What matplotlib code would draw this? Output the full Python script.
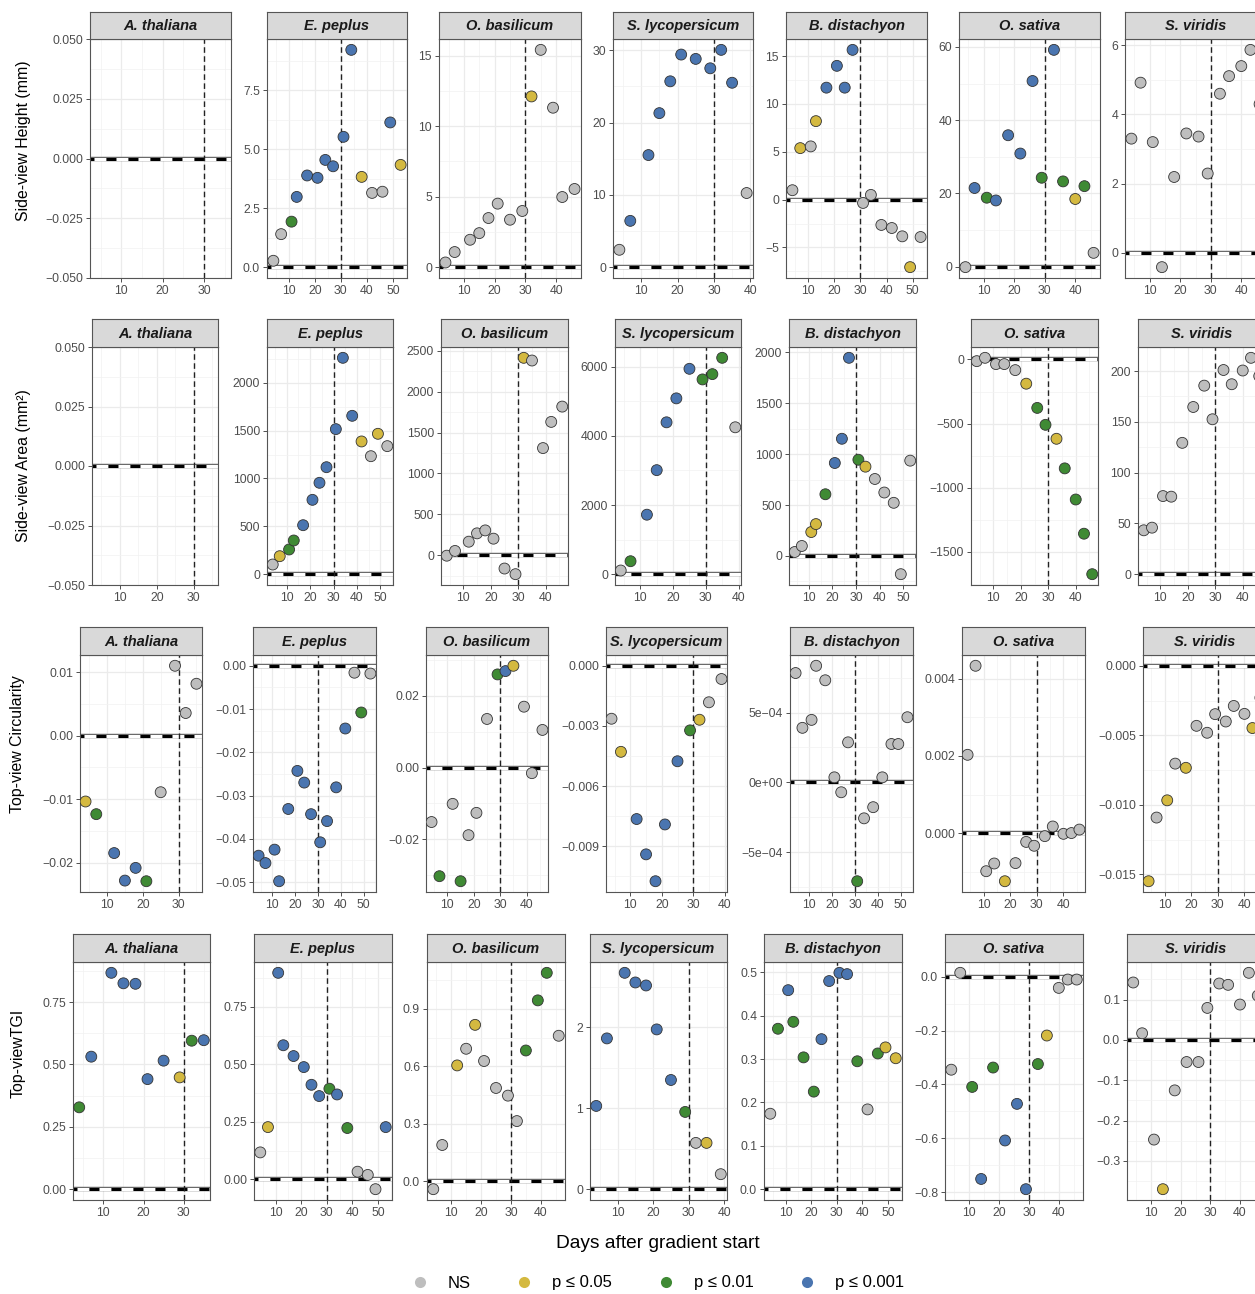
import matplotlib
matplotlib.use("Agg")
import matplotlib.pyplot as plt
from matplotlib.ticker import MultipleLocator, FuncFormatter
from matplotlib.lines import Line2D

plt.rcParams['font.family'] = ['Liberation Sans', 'DejaVu Sans']

W, H = 1255, 1294

species = ["A. thaliana", "E. peplus", "O. basilicum", "S. lycopersicum",
           "B. distachyon", "O. sativa", "S. viridis"]

# sampling days per species
days = {
    "A. thaliana": [4, 7, 12, 15, 18, 21, 25, 29, 32, 35],
    "E. peplus": [4, 7, 11, 13, 17, 21, 24, 27, 31, 34, 38, 42, 46, 49, 53],
    "O. basilicum": [4, 7, 12, 15, 18, 21, 25, 29, 32, 35, 39, 42, 46],
    "S. lycopersicum": [4, 7, 12, 15, 18, 21, 25, 29, 32, 35, 39],
    "B. distachyon": [4, 7, 11, 13, 17, 21, 24, 27, 31, 34, 38, 42, 46, 49, 53],
    "O. sativa": [4, 7, 11, 14, 18, 22, 26, 29, 33, 36, 40, 43, 46],
    "S. viridis": [4, 7, 11, 14, 18, 22, 26, 29, 33, 36, 40, 43, 46],
}

# significance: 0 = NS, 1 = p<=0.05, 2 = p<=0.01, 3 = p<=0.001
sig_labels = ["NS", "p ≤ 0.05", "p ≤ 0.01", "p ≤ 0.001"]
sig_colors = ["#BEBEBE", "#D4B940", "#3F8A34", "#4A75B0"]

height = {
    "A. thaliana": [],
    "E. peplus": [0.27, 1.40, 1.93, 2.98, 3.89, 3.79, 4.55, 4.28, 5.53, 9.22, 3.83, 3.15, 3.20, 6.14, 4.34],
    "O. basilicum": [0.33, 1.07, 1.94, 2.41, 3.48, 4.50, 3.36, 3.98, 12.1, 15.4, 11.3, 4.97, 5.54],
    "S. lycopersicum": [2.4, 6.4, 15.5, 21.3, 25.7, 29.4, 28.8, 27.5, 30.05, 25.5, 10.25],
    "B. distachyon": [0.98, 5.38, 5.56, 8.2, 11.7, 13.98, 11.7, 15.65, -0.35, 0.49, -2.65, -2.97, -3.84, -7.06, -3.91],
    "O. sativa": [-0.1, 21.5, 18.85, 18.1, 35.9, 30.9, 50.7, 24.3, 59.2, 23.3, 18.5, 22.0, 3.8],
    "S. viridis": [3.30, 4.92, 3.20, -0.42, 2.19, 3.45, 3.36, 2.29, 4.60, 5.11, 5.40, 5.87, 4.30],
}
height_sig = {
    "A. thaliana": [],
    "E. peplus": [0, 0, 2, 3, 3, 3, 3, 3, 3, 3, 1, 0, 0, 3, 1],
    "O. basilicum": [0, 0, 0, 0, 0, 0, 0, 0, 1, 0, 0, 0, 0],
    "S. lycopersicum": [0, 3, 3, 3, 3, 3, 3, 3, 3, 3, 0],
    "B. distachyon": [0, 1, 0, 1, 3, 3, 3, 3, 0, 0, 0, 0, 0, 1, 0],
    "O. sativa": [0, 3, 2, 3, 3, 3, 3, 2, 3, 2, 1, 2, 0],
    "S. viridis": [0] * 13,
}

area = {
    "A. thaliana": [],
    "E. peplus": [101, 188, 258, 352, 512, 777, 955, 1118, 1516, 2261, 1655, 1387, 1233, 1467, 1338],
    "O. basilicum": [-5, 53, 166, 268, 304, 203, -162, -231, 2413, 2380, 1310, 1630, 1817],
    "S. lycopersicum": [106, 375, 1721, 3010, 4394, 5087, 5942, 5635, 5788, 6260, 4250],
    "B. distachyon": [39, 98, 235, 313, 606, 913, 1151, 1946, 945, 877, 756, 623, 522, -179, 936],
    "O. sativa": [-13, 13, -36, -36, -83, -189, -378, -510, -619, -850, -1093, -1360, -1676],
    "S. viridis": [43.2, 45.8, 76.9, 76.3, 129.3, 164.6, 185.6, 152.5, 201, 187, 200.5, 213, 195],
}
area_sig = {
    "A. thaliana": [],
    "E. peplus": [0, 1, 2, 2, 3, 3, 3, 3, 3, 3, 3, 1, 0, 1, 0],
    "O. basilicum": [0, 0, 0, 0, 0, 0, 0, 0, 1, 0, 0, 0, 0],
    "S. lycopersicum": [0, 2, 3, 3, 3, 3, 3, 2, 2, 2, 0],
    "B. distachyon": [0, 0, 1, 1, 2, 3, 3, 3, 2, 1, 0, 0, 0, 0, 0],
    "O. sativa": [0, 0, 0, 0, 0, 1, 2, 2, 1, 2, 2, 2, 2],
    "S. viridis": [0] * 13,
}

circularity = {
    "A. thaliana": [-0.01036, -0.01235, -0.01847, -0.0228, -0.0208, -0.0229, -0.0089, 0.01099, 0.00356, 0.00816],
    "E. peplus": [-0.0439, -0.0456, -0.0425, -0.0498, -0.0331, -0.0243, -0.0270, -0.0343, -0.0408, -0.0359,
                  -0.0281, -0.0145, -0.0016, -0.0108, -0.0018],
    "O. basilicum": [-0.01515, -0.0302, -0.0101, -0.0316, -0.0188, -0.0126, 0.01349, 0.02587, 0.02679, 0.02827,
                     0.0169, -0.00157, 0.01044],
    "S. lycopersicum": [-0.00264, -0.00429, -0.00764, -0.0094, -0.01074, -0.00791, -0.00476, -0.00322, -0.00269,
                        -0.00182, -0.00066],
    "B. distachyon": [7.84e-4, 3.91e-4, 4.48e-4, 8.36e-4, 7.32e-4, 0.36e-4, -0.71e-4, 2.87e-4, -7.09e-4, -2.58e-4,
                      -1.78e-4, 0.36e-4, 2.75e-4, 2.75e-4, 4.67e-4],
    "O. sativa": [0.00203, 0.00434, -0.00099, -0.00079, -0.00125, -0.00078, -0.00023, -0.00033, -0.00008, 0.00017,
                  -0.00002, 0.0, 0.00009],
    "S. viridis": [-0.0155, -0.01092, -0.00968, -0.00704, -0.00734, -0.00432, -0.00482, -0.00348, -0.00401,
                   -0.00289, -0.00346, -0.00448, -0.0023],
}
circularity_sig = {
    "A. thaliana": [1, 2, 3, 3, 3, 2, 0, 0, 0, 0],
    "E. peplus": [3] * 12 + [0, 2, 0],
    "O. basilicum": [0, 2, 0, 2, 0, 0, 0, 2, 3, 1, 0, 0, 0],
    "S. lycopersicum": [0, 1, 3, 3, 3, 3, 3, 2, 1, 0, 0],
    "B. distachyon": [0] * 8 + [2] + [0] * 6,
    "O. sativa": [0, 0, 0, 0, 1, 0, 0, 0, 0, 0, 0, 0, 0],
    "S. viridis": [1, 0, 1, 0, 1, 0, 0, 0, 0, 0, 0, 1, 0],
}

tgi = {
    "A. thaliana": [0.328, 0.531, 0.867, 0.825, 0.823, 0.441, 0.515, 0.448, 0.595, 0.597],
    "E. peplus": [0.117, 0.227, 0.898, 0.583, 0.536, 0.488, 0.411, 0.362, 0.394, 0.369, 0.223, 0.033, 0.019,
                  -0.043, 0.227],
    "O. basilicum": [-0.042, 0.189, 0.605, 0.692, 0.817, 0.628, 0.487, 0.447, 0.314, 0.683, 0.945, 1.089, 0.760],
    "S. lycopersicum": [1.027, 1.86, 2.669, 2.55, 2.513, 1.971, 1.347, 0.953, 0.571, 0.571, 0.185],
    "B. distachyon": [0.174, 0.370, 0.459, 0.386, 0.304, 0.225, 0.346, 0.480, 0.499, 0.496, 0.295, 0.184, 0.313,
                      0.327, 0.302],
    "O. sativa": [-0.345, 0.015, -0.409, -0.751, -0.337, -0.608, -0.472, -0.789, -0.324, -0.218, -0.041, -0.010,
                  -0.010],
    "S. viridis": [0.1425, 0.0166, -0.247, -0.370, -0.125, -0.0547, -0.0547, 0.0795, 0.140, 0.1367, 0.0878,
                   0.1665, 0.11],
}
tgi_sig = {
    "A. thaliana": [2, 3, 3, 3, 3, 3, 3, 1, 2, 3],
    "E. peplus": [0, 1, 3, 3, 3, 3, 3, 3, 2, 3, 2, 0, 0, 0, 3],
    "O. basilicum": [0, 0, 1, 0, 1, 0, 0, 0, 0, 2, 2, 2, 0],
    "S. lycopersicum": [3, 3, 3, 3, 3, 3, 3, 2, 0, 1, 0],
    "B. distachyon": [0, 2, 3, 2, 2, 2, 3, 3, 3, 3, 2, 0, 2, 1, 1],
    "O. sativa": [0, 0, 2, 3, 2, 3, 3, 3, 2, 1, 0, 0, 0],
    "S. viridis": [0, 0, 0, 1, 0, 0, 0, 0, 0, 0, 0, 0, 0],
}

y_titles = ["Side-view Height (mm)", "Side-view Area (mm²)", "Top-view Circularity", "Top-viewTGI"]
x_title = "Days after gradient start"

# axis tick steps and label decimals per panel (None -> scientific)
y_steps = [
    [0.025, 2.5, 5, 10, 5, 20, 2],
    [0.025, 500, 500, 2000, 500, 500, 50],
    [0.01, 0.01, 0.02, 0.003, 5e-4, 0.002, 0.005],
    [0.25, 0.25, 0.3, 1, 0.1, 0.2, 0.1],
]
y_decs = [
    [3, 1, 0, 0, 0, 0, 0],
    [3, 0, 0, 0, 0, 0, 0],
    [2, 2, 2, 3, None, 3, 3],
    [2, 2, 1, 0, 1, 1, 1],
]

# layout in pixels: (strip top, plot top, plot bottom) and panel x spans
row_y = [(12, 39, 278), (319, 347, 585), (627, 655, 892), (934, 962, 1200)]
row_x = [
    [(90, 231), (267, 407), (439, 581), (613, 753), (786, 927), (959, 1100), (1125, 1266)],
    [(92, 218), (267, 393), (441, 568), (615, 741), (789, 916), (971, 1098), (1138, 1265)],
    [(80, 202), (253, 376), (426, 548), (606, 727), (790, 913), (962, 1085), (1143, 1266)],
    [(73, 210), (254, 392), (427, 565), (590, 727), (764, 902), (945, 1083), (1127, 1264)],
]
title_pos = [(24, 141), (24, 466), (18, 744), (18, 1053)]

traits = [(height, height_sig), (area, area_sig), (circularity, circularity_sig), (tgi, tgi_sig)]


def make_fmt(dec, step):
    def f(v, pos):
        if abs(v) < step * 1e-6:
            v = 0.0
        if dec is None:
            s = "%.0e" % v
        else:
            s = "%.*f" % (dec, v)
        return s.replace("-", "\u2212")
    return FuncFormatter(f)


fig = plt.figure(figsize=(W / 100, H / 100), dpi=100)

for r, (vals, sigs) in enumerate(traits):
    ys0, ys1, yb = row_y[r]
    for c, sp in enumerate(species):
        x0, x1 = row_x[r][c]
        ax = fig.add_axes([x0 / W, 1 - yb / H, (x1 - x0) / W, (yb - ys1) / H])
        st = fig.add_axes([x0 / W, 1 - ys1 / H, (x1 - x0) / W, (ys1 - ys0) / H])
        st.set_facecolor("#D9D9D9")
        st.set_xticks([])
        st.set_yticks([])
        for s in st.spines.values():
            s.set_color("#555555")
            s.set_linewidth(0.8)
        st.text(0.5, 0.48, sp, ha="center", va="center", fontsize=10.5,
                fontweight="bold", fontstyle="italic", color="#1A1A1A",
                transform=st.transAxes)

        d = days[sp]
        y = vals[sp]
        xs = d + [30]
        xlo, xhi = min(xs), max(xs)
        xp = 0.05 * (xhi - xlo)
        ax.set_xlim(xlo - xp, xhi + xp)
        if len(y):
            ylo, yhi = min(min(y), 0), max(max(y), 0)
            yp = 0.05 * (yhi - ylo)
            ax.set_ylim(ylo - yp, yhi + yp)
        else:
            ax.set_ylim(-0.05, 0.05)

        step = y_steps[r][c]
        ax.xaxis.set_major_locator(MultipleLocator(10))
        ax.xaxis.set_minor_locator(MultipleLocator(5))
        ax.yaxis.set_major_locator(MultipleLocator(step))
        ax.yaxis.set_minor_locator(MultipleLocator(step / 2))
        ax.yaxis.set_major_formatter(make_fmt(y_decs[r][c], step))
        ax.grid(which="major", color="#EBEBEB", lw=0.9)
        ax.grid(which="minor", color="#F2F2F2", lw=0.5)
        ax.set_axisbelow(True)
        ax.tick_params(which="major", length=3, width=0.6, color="#333333",
                       labelsize=8.8, labelcolor="#4D4D4D", pad=2)
        ax.tick_params(which="minor", length=0)
        for s in ax.spines.values():
            s.set_color("#555555")
            s.set_linewidth(0.8)

        ax.axhline(0, color="#666666", lw=3.2, zorder=2)
        ax.axhline(0, color="white", lw=2.2, zorder=2.1)
        ax.axhline(0, color="black", lw=2.2, ls=(2, (3.3, 3.9)), zorder=2.2)
        ax.axvline(30, color="#222222", lw=1.0, ls=(0, (4, 2.5)), zorder=2.3)

        if len(y):
            ax.scatter(d, y, s=62, c=[sig_colors[k] for k in sigs[sp]],
                       edgecolors="#333333", linewidths=0.6, zorder=5)

    tx, ty = title_pos[r]
    fig.text(tx / W, 1 - ty / H, y_titles[r], rotation=90, ha="center",
             va="center", fontsize=11.4, color="black")

fig.text(658 / W, 1 - 1244 / H, x_title, ha="center", va="center", fontsize=13.8)

handles = [Line2D([], [], marker="o", ls="", markerfacecolor=col,
                  markeredgecolor="none", markersize=8) for col in sig_colors]
fig.legend(handles, sig_labels, ncol=4, loc="center",
           bbox_to_anchor=(658 / W, 1 - 1283 / H), frameon=False,
           handlelength=1.0, handletextpad=1.18, columnspacing=2.72, fontsize=12)

fig.savefig("out.png", dpi=100)
